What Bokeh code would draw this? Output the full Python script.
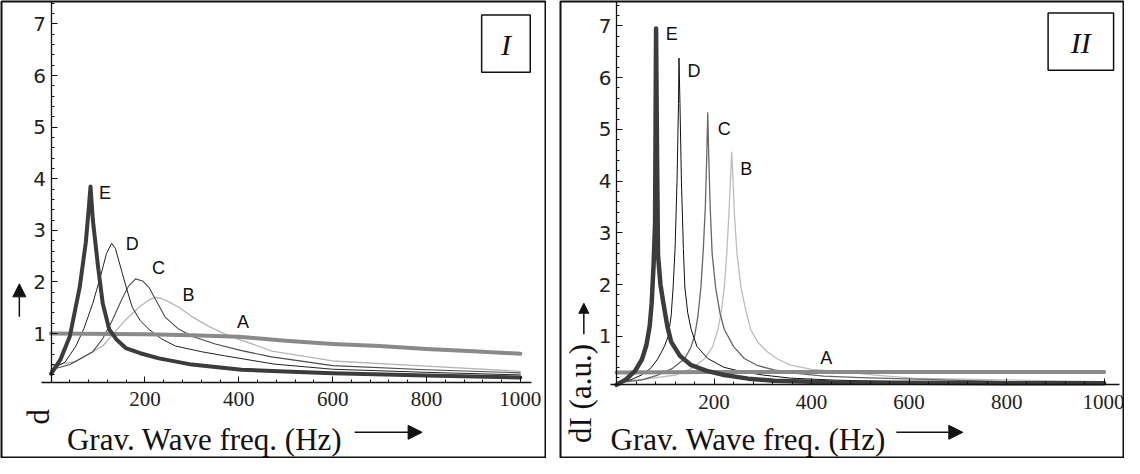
import math
from bokeh.plotting import figure
from bokeh.models import FixedTicker, Label, Arrow, NormalHead, BoxAnnotation, Range1d
from bokeh.layouts import row
from bokeh.embed import file_html
from bokeh.resources import INLINE

# ---------------- data : panel I ----------------
I_A_x = [0, 200, 300, 400, 450, 500, 600, 700, 800, 900, 1000]
I_A_y = [1.0, 0.99, 0.97, 0.94, 0.9, 0.86, 0.8, 0.76, 0.70, 0.66, 0.61]
I_B_x = [0, 53, 110, 159, 190, 210, 222, 235, 250, 272, 300, 336, 380, 441, 470, 600, 800, 1000]
I_B_y = [0.38, 0.46, 0.76, 1.27, 1.53, 1.66, 1.70, 1.68, 1.62, 1.51, 1.33, 1.14, 0.95, 0.76, 0.66, 0.47, 0.37, 0.27]
I_C_x = [0, 40, 89, 110, 131, 150, 165, 180, 195, 209, 225, 243, 270, 300, 350, 406, 470, 600, 800, 1000]
I_C_y = [0.3, 0.4, 0.65, 0.9, 1.27, 1.65, 1.92, 2.06, 2.02, 1.89, 1.62, 1.32, 1.1, 0.95, 0.8, 0.67, 0.55, 0.38, 0.3, 0.24]
I_D_x = [0, 30, 53, 70, 89, 105, 118, 129, 137, 145, 160, 173, 190, 209, 235, 265, 320, 370, 475, 600, 800, 1000]
I_D_y = [0.3, 0.45, 0.76, 1.1, 1.59, 2.1, 2.55, 2.75, 2.65, 2.39, 1.9, 1.51, 1.25, 1.08, 0.9, 0.76, 0.65, 0.57, 0.41, 0.31, 0.25, 0.2]
I_E_x = [0, 20, 40, 61, 74, 80, 84, 89, 100, 110, 124, 140, 159, 190, 230, 300, 406, 512, 600, 800, 1000]
I_E_y = [0.22, 0.5, 0.95, 1.9, 2.77, 3.4, 3.85, 3.2, 2.3, 1.59, 1.08, 0.88, 0.72, 0.62, 0.52, 0.40, 0.30, 0.26, 0.23, 0.19, 0.15]

# ---------------- data : panel II ----------------
II_A_x = [0, 200, 400, 600, 800, 1000]
II_A_y = [0.30, 0.31, 0.31, 0.31, 0.31, 0.31]
II_B_x = [0, 60, 120, 155, 181, 197, 208, 215, 221, 226, 230, 234, 236, 238, 242, 247, 255, 265, 275, 290, 309, 330, 357, 400, 458, 530, 608, 763, 1000]
II_B_y = [0.12, 0.17, 0.25, 0.38, 0.57, 0.8, 1.13, 1.5, 1.95, 2.6, 3.3, 4.1, 4.56, 4.2, 3.3, 2.6, 1.95, 1.5, 1.13, 0.88, 0.7, 0.56, 0.44, 0.36, 0.32, 0.25, 0.19, 0.16, 0.12]
II_C_x = [0, 50, 85, 115, 140, 152, 160, 167, 173, 178, 182, 185, 187, 189, 192, 196, 203, 212, 221, 240, 262, 290, 323, 370, 425, 500, 650, 800, 1000]
II_C_y = [0.1, 0.15, 0.25, 0.38, 0.57, 0.78, 1.0, 1.4, 1.95, 2.7, 3.5, 4.5, 5.32, 4.5, 3.5, 2.6, 1.95, 1.45, 1.13, 0.8, 0.57, 0.43, 0.35, 0.28, 0.23, 0.2, 0.16, 0.12, 0.1]
II_D_x = [0, 30, 51, 70, 85, 98, 106, 112, 116, 120, 124, 127, 128, 130, 133, 137, 140, 146, 153, 165, 187, 220, 255, 300, 357, 450, 600, 800, 1000]
II_D_y = [0.1, 0.16, 0.25, 0.38, 0.57, 0.8, 1.0, 1.4, 1.95, 2.7, 4.0, 5.5, 6.38, 5.5, 4.0, 2.7, 1.95, 1.45, 1.13, 0.8, 0.57, 0.4, 0.32, 0.25, 0.19, 0.15, 0.12, 0.1, 0.09]
II_E_x = [0, 20, 38, 52, 61, 68, 72, 76, 79, 81, 83, 85, 90, 96, 104, 112, 130, 153, 185, 221, 270, 323, 400, 458, 600, 800, 1000]
II_E_y = [0.06, 0.17, 0.33, 0.55, 0.82, 1.2, 1.64, 2.4, 3.2, 6.95, 4.5, 2.57, 2.0, 1.64, 1.2, 0.89, 0.62, 0.44, 0.33, 0.25, 0.18, 0.14, 0.12, 0.1, 0.1, 0.09, 0.09]

x_ticks = [200, 400, 600, 800, 1000]
x_minor = [40 * k for k in range(1, 26)]
y_ticks = [1, 2, 3, 4, 5, 6, 7]
y_minor = [round(0.2 * k, 2) for k in range(1, 40)]
curve_names = ["A", "B", "C", "D", "E"]

I_series = [(I_A_x, I_A_y), (I_B_x, I_B_y), (I_C_x, I_C_y), (I_D_x, I_D_y), (I_E_x, I_E_y)]
II_series = [(II_A_x, II_A_y), (II_B_x, II_B_y), (II_C_x, II_C_y), (II_D_x, II_D_y), (II_E_x, II_E_y)]

I_styles = {"A": ("#8a8a8a", 4), "B": ("#b5b5b5", 1.3), "C": ("#4a4a4a", 1.1),
            "D": ("#222222", 1.0), "E": ("#3c3c3c", 4)}
II_styles = {"A": ("#8a8a8a", 4), "B": ("#bdbdbd", 1.3), "C": ("#666666", 1.3),
             "D": ("#111111", 1.0), "E": ("#3c3c3c", 4.5)}

# letter label positions (data units)
I_letters = {"E": (115, 3.73), "D": (173, 2.73), "C": (229, 2.28), "B": (293, 1.75), "A": (409, 1.22)}
II_letters = {"E": (113, 6.85), "D": (159, 6.12), "C": (221, 5.01), "B": (266, 4.24), "A": (430, 0.58)}

SERIF = "Liberation Serif"
SANS = "DejaVu Sans"

# layout: reference geometry (x 7..1140, y 1..473) squeezed into 1124 x 458
TOTAL_W, TOTAL_H = 1124, 458
SX = TOTAL_W / 1133.0
SY = TOTAL_H / 472.0
W1 = 546
OFF2 = 559
W2 = TOTAL_W - OFF2


def panel(fig_off, fig_w, x0px, xs, y0px, ys, series, styles, letters, cfg):
    mb = 1
    X = lambda px: (px - x0px) / xs
    Y = lambda py: (y0px - py) / ys
    rx = lambda g: g / SX + 7
    ry = lambda g: g / SY + 1
    p = figure(width=fig_w, height=TOTAL_H,
               x_range=Range1d(X(rx(fig_off + mb)), X(rx(fig_off + fig_w - mb))),
               y_range=Range1d(Y(ry(TOTAL_H - mb)), Y(ry(mb))),
               output_backend="svg", toolbar_location=None,
               min_border=mb, min_border_left=mb, min_border_right=mb,
               min_border_top=mb, min_border_bottom=mb)
    p.grid.visible = False
    p.background_fill_color = "white"
    p.border_fill_color = "white"
    p.outline_line_color = "#111111"
    p.outline_line_width = 2

    xa = p.xaxis[0]
    ya = p.yaxis[0]
    xa.fixed_location = 0.06
    ya.fixed_location = 0
    xa.bounds = cfg["xbounds"]
    ya.bounds = (0.06, 8)
    xa.ticker = FixedTicker(ticks=x_ticks, minor_ticks=x_minor)
    ya.ticker = FixedTicker(ticks=y_ticks, minor_ticks=y_minor)
    for ax in (xa, ya):
        ax.axis_line_color = "#111111"
        ax.axis_line_width = 1.3
        ax.major_tick_line_color = "#111111"
        ax.minor_tick_line_color = "#111111"
        ax.major_tick_in = 6
        ax.major_tick_out = 0
        ax.minor_tick_in = 3
        ax.minor_tick_out = 0
        ax.major_label_text_color = "#222222"
    xa.major_label_text_font = SERIF
    xa.major_label_text_font_size = "21px"
    xa.major_label_standoff = 10
    ya.major_label_text_font = SANS
    ya.major_label_text_font_size = "20px"
    ya.major_label_standoff = 5

    order = ["B", "C", "D", "A", "E"]
    for name in order:
        xv, yv = series[curve_names.index(name)]
        col, w = styles[name]
        p.line(xv, yv, line_color=col, line_width=w, line_join="round", line_cap="round")

    for name, (lx, ly) in letters.items():
        p.add_layout(Label(x=lx, y=ly, text=name, text_font="Liberation Sans",
                           text_font_size="18px", text_align="center",
                           text_baseline="middle", text_color="#111111"))

    # x axis title and arrow
    p.add_layout(Label(x=X(cfg["xlab"][0]), y=Y(cfg["xlab"][1]), text="Grav. Wave freq. (Hz)",
                       text_font=SERIF, text_font_size="31px", text_align="left",
                       text_baseline="alphabetic", text_color="#111111"))
    ax0, ax1, ay = cfg["xarrow"]
    p.add_layout(Arrow(end=NormalHead(size=14, fill_color="#111111", line_color="#111111"),
                       x_start=X(ax0), y_start=Y(ay), x_end=X(ax1), y_end=Y(ay),
                       line_width=1.5, line_color="#111111"))
    # y axis title and arrow
    p.add_layout(Label(x=X(cfg["ylab"][0]), y=Y(cfg["ylab"][1]), text=cfg["ytext"],
                       text_font=SERIF, text_font_size="31px", text_align="left",
                       text_baseline="alphabetic", angle=math.pi / 2, text_color="#111111"))
    vx, vy0, vy1, hs = cfg["yarrow"]
    p.add_layout(Arrow(end=NormalHead(size=hs, fill_color="#111111", line_color="#111111"),
                       x_start=X(vx), y_start=Y(vy0), x_end=X(vx), y_end=Y(vy1),
                       line_width=1.5, line_color="#111111"))
    # panel id box
    bl, br, bt, bb = cfg["box"]
    p.add_layout(BoxAnnotation(left=X(bl), right=X(br), top=Y(bt), bottom=Y(bb),
                               fill_color=None, fill_alpha=0, line_color="#111111",
                               line_width=1.5, line_alpha=1))
    p.add_layout(Label(x=X((bl + br) / 2), y=Y((bt + bb) / 2 + 1), text=cfg["boxtext"],
                       text_font=SERIF, text_font_style="italic", text_font_size="30px",
                       text_align="center", text_baseline="middle", text_color="#111111"))
    return p


p1 = panel(0, W1, 58, 0.473, 397.5, 53.2, I_series, I_styles, I_letters,
           {"xbounds": (-21, 1023), "xlab": (74, 453), "xarrow": (364, 432, 446),
            "ylab": (45, 438), "ytext": "d", "yarrow": (26, 327, 293, 13),
            "box": (492, 541, 16, 75), "boxtext": "I"})
p2 = panel(OFF2, W2, 628, 0.4915, 400.3, 53.3, II_series, II_styles, II_letters,
           {"xbounds": (-12, 1031), "xlab": (622, 453), "xarrow": (910, 977, 446),
            "ylab": (592, 457), "ytext": "dI (a.u.)", "yarrow": (595, 345, 313, 10),
            "box": (1063, 1129, 14, 73), "boxtext": "II"})

layout = row(p1, p2, spacing=OFF2 - W1)
open("out.html", "w").write(file_html(layout, INLINE))
